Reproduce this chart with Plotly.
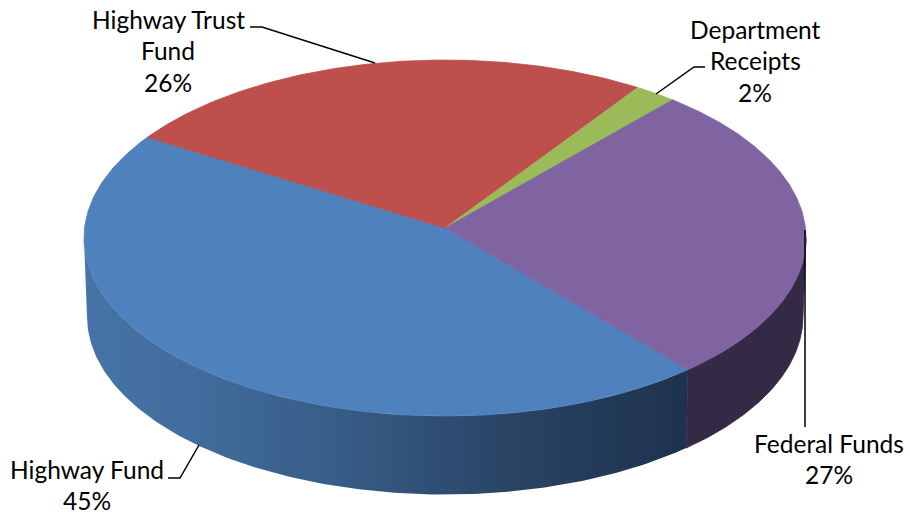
import numpy as np
import plotly.graph_objects as go

# Data
categories = ["Highway Fund", "Highway Trust Fund", "Department Receipts", "Federal Funds"]
values = [45.0, 25.6, 2.0, 27.4]
slice_colors = ["#4f81bd", "#bd4f4c", "#9bbb59", "#8064a2"]
label_lines = [["Highway Fund"], ["Highway Trust", "Fund"], ["Department", "Receipts"], ["Federal Funds"]]

# Projection of the tilted disc
CX, CY, RX, RY = 445.0, 238.0, 361.0, 178.0
BCX, BCY, BRX, BRY = 445.0, 316.5, 358.0, 178.0
PERSP = -0.056            # shift of the true centre under perspective
FIRST_START = 139.8       # degrees clockwise from the top where the first slice begins
APEX = (CX, CY + PERSP * RY)


def project(deg, cx=CX, cy=CY, rx=RX, ry=RY):
    t = np.radians(np.asarray(deg, dtype=float))
    u, v = np.sin(t), -np.cos(t)
    d = 1 + PERSP * v
    return cx + rx * u * np.sqrt(1 - PERSP ** 2) / d, cy + ry * (v + PERSP) / d


fig = go.Figure()

# Slice sweep angles derive from the values
sweeps = [360.0 * v / sum(values) for v in values]
starts = [FIRST_START + sum(sweeps[:i]) for i in range(len(values))]

# The ellipse's horizontal extremes under the perspective map
EXTREME = np.degrees(np.arccos(PERSP))
RIGHT_EXTREME, LEFT_EXTREME = EXTREME, 360.0 - EXTREME


def wall(a0, a1, **kw):
    a = np.linspace(a0, a1, 200)
    x1, y1 = project(a)
    x2, y2 = project(a, BCX, BCY, BRX, BRY)
    fig.add_trace(go.Scatter(
        x=np.r_[x1, x2[::-1], x1[0]], y=np.r_[y1, y2[::-1], y1[0]],
        mode="lines", fill="toself", hoverinfo="skip", showlegend=False, **kw))


wall(starts[0], LEFT_EXTREME, line=dict(width=0), fillcolor="#3f6797", fillgradient=dict(
    type="horizontal",
    colorscale=[[0, "#4674a8"], [0.2, "#416b9b"], [0.45, "#365a84"], [0.7, "#2a4466"], [1, "#1d324c"]]))
wall(RIGHT_EXTREME, starts[0], line=dict(width=0.8, color="#352a45"), fillcolor="#352a45")

# Top faces
for name, start, sweep, color in zip(categories, starts, sweeps, slice_colors):
    a = np.linspace(start, start + sweep, 200)
    x, y = project(a)
    fig.add_trace(go.Scatter(
        x=np.r_[APEX[0], x, APEX[0]], y=np.r_[APEX[1], y, APEX[1]],
        mode="lines", line=dict(width=0.8, color=color), fill="toself", fillcolor=color,
        name=name, hoverinfo="name", showlegend=False))

# Leader lines
leaders = [
    ([168, 180, 199], [478, 478, 445]),
    ([250, 262, 375], [27, 27, 63]),
    ([705, 694, 656], [67, 67, 94]),
    ([805, 805], [230, 427]),
]
for lx, ly in leaders:
    fig.add_trace(go.Scatter(x=lx, y=ly, mode="lines", line=dict(color="#000000", width=1.5),
                             hoverinfo="skip", showlegend=False))

# Labels
label_pos = [(87, 469), (168, 19), (755, 29), (829, 443)]
LINE_H = 31.5
for lines, v, (lx, ly) in zip(label_lines, values, label_pos):
    for i, txt in enumerate(lines + [f"{round(v)}%"]):
        fig.add_annotation(x=lx, y=ly + i * LINE_H, text=txt, showarrow=False,
                           xanchor="center", yanchor="middle",
                           font=dict(family="Lato", size=24.5, color="#000000"))

fig.update_layout(
    width=910, height=519, margin=dict(l=0, r=0, t=0, b=0),
    paper_bgcolor="white", plot_bgcolor="white",
    xaxis=dict(range=[0, 910], visible=False, fixedrange=True),
    yaxis=dict(range=[519, 0], visible=False, fixedrange=True),
)
fig.write_html("out.html", config={"displayModeBar": False},
               post_script="document.body.style.margin='0';")
